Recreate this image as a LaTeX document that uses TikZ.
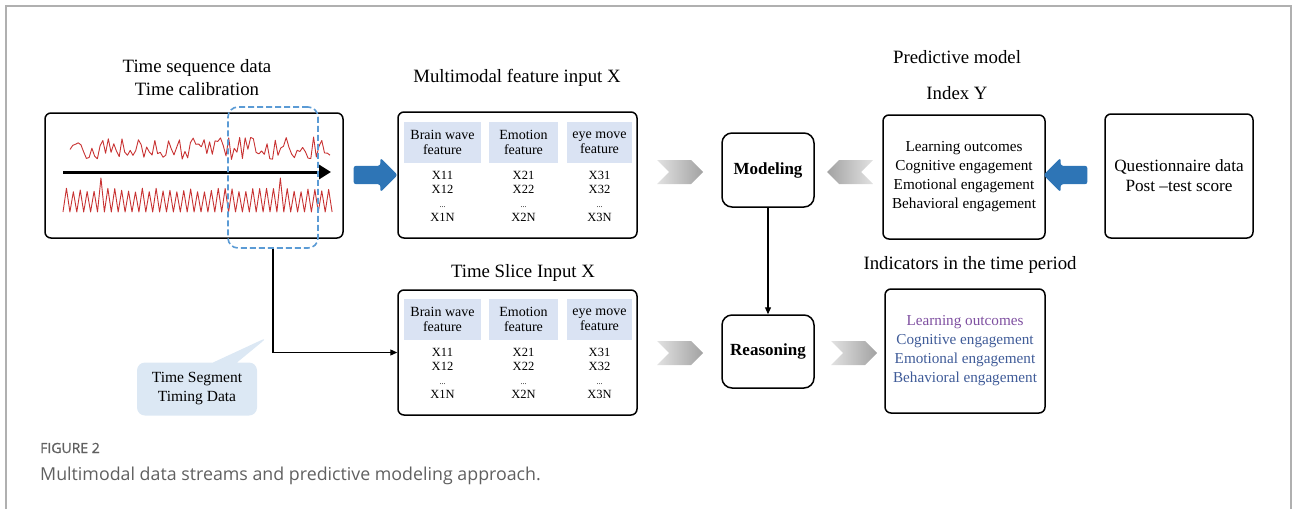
\documentclass[tikz,border=0pt]{standalone}
\usepackage{fontspec}
\setmainfont{Liberation Serif}
\newfontfamily\capfont{Open Sans}
\newfontfamily\capbfont[FakeBold=0.9]{Open Sans}
\usetikzlibrary{arrows.meta,positioning,shapes.arrows,shapes.symbols,shapes.callouts}

\definecolor{arrblue}{HTML}{2E75B6}
\definecolor{hdrblue}{HTML}{DAE3F3}
\definecolor{callblue}{HTML}{DCE8F4}
\definecolor{dashblue}{HTML}{5B9BD5}
\definecolor{sigred}{HTML}{C83232}
\definecolor{chevlight}{HTML}{E2E2E2}
\definecolor{chevdark}{HTML}{A2A2A2}
\definecolor{indpurple}{HTML}{7E4FA0}
\definecolor{indblue}{HTML}{3F5B98}
\definecolor{framegray}{HTML}{B0B0B0}
\definecolor{capgray}{HTML}{606060}

\begin{document}
\begin{tikzpicture}[
  x=1pt, y=-1pt,
  box/.style={draw, line width=1.5pt, rounded corners=6pt},
  ttl/.style={font=\fontsize{18.8}{23}\selectfont, align=center},
  hdr/.style={fill=hdrblue, minimum height=41pt, inner sep=0pt, align=center, font=\fontsize{14}{15}\selectfont},
  items/.style={align=center, font=\fontsize{12.5}{14}\selectfont},
  sig/.style={draw=sigred, line width=0.9pt, line join=round},
  bigarr/.style={single arrow, fill=arrblue, draw=none, inner sep=9pt, single arrow head extend=8pt, minimum height=44pt, rounded corners=2.5pt},
  chevr/.style={signal, signal from=west, signal to=east, minimum width=46pt, minimum height=24pt, inner sep=0pt, left color=chevlight, right color=chevdark},
  chevl/.style={signal, signal from=east, signal to=west, minimum width=46pt, minimum height=24pt, inner sep=0pt, left color=chevdark, right color=chevlight},
  con/.style={-{Triangle[length=7pt,width=6pt]}, line width=1.2pt}
]
  \useasboundingbox (0,0) rectangle (1292,509);
  \draw[framegray, line width=1.5pt] (6,509) -- (6,6) -- (1291,6) -- (1291,509);

  % time sequence
  \node[ttl] (seqttl) at (197,78) {Time sequence data\\Time calibration};
  \node[box, minimum width=298pt, minimum height=125pt] (sigbox) at (194,175.5) {};
  \pgfmathsetseed{11}
  \draw[sig] plot[domain=70:330, samples=96] (\x, {149+12*rand});
  \draw[sig] (63,212) \foreach \i in {1,...,78} {
    -- ({63+3.45*\i}, {ifthenelse(mod(\i,2)==0, 212, ifthenelse(\i==11 || \i==63, 178, 190+2*rand))})};
  \coordinate (t0) at (63,172);
  \coordinate (t1) at (331,172);
  \draw[line width=3pt, -{Triangle[length=12pt,width=14pt]}] (t0) -- (t1);
  \node[draw=dashblue, dashed, dash pattern=on 6pt off 3pt, line width=1.6pt, rounded corners=10pt,
        minimum width=90pt, minimum height=141pt] (win) at (273,177.5) {};

  \node[bigarr] (a1) at (371,175) {};

  % feature boxes
  \node[ttl] (featttl) at (517,78) {Multimodal feature input X};
  \node[box, minimum width=239pt, minimum height=126pt] (feat) at (517.5,175) {};
  \node[ttl] (slicettl) at (523,273) {Time Slice Input X};
  \node[box, minimum width=239pt, minimum height=125pt] (slice) at (517.5,352.5) {};
  \foreach \bx/\cy/\iy in {feat/142.5/196, slice/319.5/373.5} {
    \foreach \col/\cx/\cw/\lab in {1/442.5/77/{Brain wave\\feature}, 2/523.5/69/{Emotion\\feature}, 3/599.5/65/{eye move\\feature}} {
      \node[hdr, minimum width=\cw pt] (\bx h\col) at (\cx,\cy) {\lab};
      \node[items] (\bx i\col) at (\cx,\iy) {X\col1\\X\col2\\{\fontsize{8}{8}\selectfont...}\\X\col N};
    }
  }

  % model and reasoning
  \node[chevr] (c1) at (680,172) {};
  \node[box, rounded corners=10pt, minimum width=92pt, minimum height=74pt,
        font=\bfseries\fontsize{17}{20}\selectfont] (model) at (768,170) {Modeling};
  \node[chevl] (c2) at (850,172) {};
  \node[chevr] (c3) at (680,353) {};
  \node[box, rounded corners=10pt, minimum width=92pt, minimum height=73pt,
        font=\bfseries\fontsize{17}{20}\selectfont] (reason) at (768,351.5) {Reasoning};
  \node[chevr] (c4) at (854,353) {};
  \draw[con] (model) -- (reason);

  % predictive model
  \node[ttl] (predttl) at (957,57) {Predictive model};
  \node[ttl] (indexttl) at (957,93) {Index Y};
  \node[box, minimum width=162pt, minimum height=124pt, align=center,
        font=\fontsize{15.2}{19}\selectfont] (index) at (964,177)
    {Learning outcomes\\Cognitive engagement\\Emotional engagement\\Behavioral engagement};
  \node[bigarr, shape border rotate=180] (a2) at (1070,175) {};
  \node[box, minimum width=148pt, minimum height=124pt, align=center,
        font=\fontsize{17.2}{20}\selectfont] (quest) at (1179,176)
    {Questionnaire data\\Post –test score};

  \node[ttl] (indicttl) at (970,265) {Indicators in the time period};
  \node[box, minimum width=160pt, minimum height=124pt, align=center,
        font=\fontsize{15.2}{19}\selectfont] (indic) at (965,351)
    {\textcolor{indpurple}{Learning outcomes}\\\textcolor{indblue}{Cognitive engagement}\\
     \textcolor{indblue}{Emotional engagement}\\\textcolor{indblue}{Behavioral engagement}};

  % time segment
  \node[rectangle callout, callout absolute pointer={(268,337)}, callout pointer width=24pt,
        fill=callblue, rounded corners=8pt, minimum width=120pt, minimum height=53pt, align=center,
        font=\fontsize{15.5}{19}\selectfont] (seg) at (197,389) {Time Segment\\Timing Data};
  \draw[con] (win.south) |- (slice.west);

  % caption
  \node[anchor=base west, inner sep=0pt, text=capgray, font=\capbfont\fontsize{14}{16}\selectfont] (fig) at (40,453) {FIGURE 2};
  \node[anchor=base west, inner sep=0pt, text=capgray, font=\capfont\fontsize{17.8}{20}\selectfont] (cap) at (40,480)
    {Multimodal data streams and predictive modeling approach.};
\end{tikzpicture}
\end{document}
